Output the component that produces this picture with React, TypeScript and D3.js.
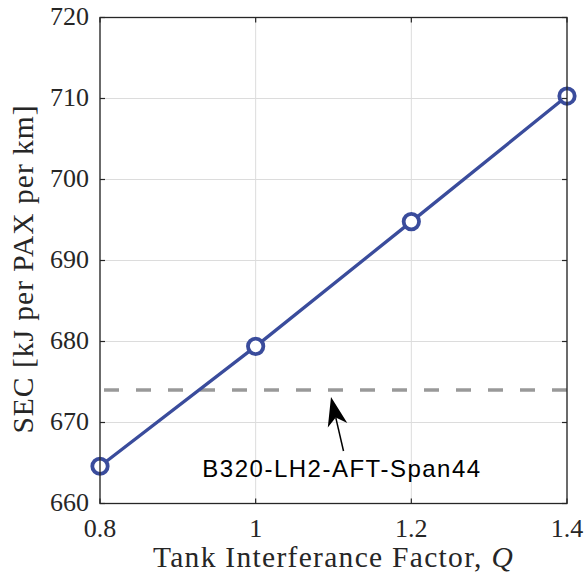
import React from "react";
import * as d3 from "d3";

const qValues = [0.8, 1.0, 1.2, 1.4];
const secValues = [664.6, 679.4, 694.8, 710.3];
const baselineSEC = 674.0;
const baselineLabel = "B320-LH2-AFT-Span44";
const xTicks = [0.8, 1.0, 1.2, 1.4];
const xTickLabels = ["0.8", "1", "1.2", "1.4"];
const yTicks = [660, 670, 680, 690, 700, 710, 720];

const W = 587, H = 583;
const L = 100, R = 567, T = 17.5, B = 503.5;
const serif = "'Liberation Serif', 'Times New Roman', serif";

export default function App() {
  const x = d3.scaleLinear().domain([0.8, 1.4]).range([L, R]);
  const y = d3.scaleLinear().domain([660, 720]).range([B, T]);
  const line = d3.line<number>().x((_, i) => x(qValues[i])).y((d) => y(d));
  const lineColor = "#3a4c9c";
  const ax = 331, ay = y(baselineSEC) + 7;
  const tx = 343.5, ty = 451;
  const ang = Math.atan2(ay - ty, ax - tx);
  const hl = 29, hw = 10;
  const c = Math.cos(ang), s = Math.sin(ang);
  const p1 = [ax - hl * c + hw * s, ay - hl * s - hw * c];
  const p2 = [ax - hl * c - hw * s, ay - hl * s + hw * c];
  const pm = [ax - hl * 0.72 * c, ay - hl * 0.72 * s];
  return (
    <svg width={W} height={H} style={{ position: "absolute", left: 0, top: 0, background: "#fff" }}>
      <rect x={0} y={0} width={W} height={H} fill="#fff" />
      {xTicks.map((t) => (
        <line key={"gx" + t} x1={x(t)} x2={x(t)} y1={T} y2={B} stroke="#dcdcdc" strokeWidth={1} />
      ))}
      {yTicks.map((t) => (
        <line key={"gy" + t} x1={L} x2={R} y1={y(t)} y2={y(t)} stroke="#dcdcdc" strokeWidth={1} />
      ))}
      <line x1={L} x2={R} y1={y(baselineSEC)} y2={y(baselineSEC)} stroke="#999999" strokeWidth={3.5} strokeDasharray="15 17" strokeDashoffset={-4} />
      <path d={line(secValues) || ""} fill="none" stroke={lineColor} strokeWidth={3.3} />
      {secValues.map((v, i) => (
        <circle key={i} cx={x(qValues[i])} cy={y(v)} r={7.7} fill="#fff" stroke={lineColor} strokeWidth={3.8} />
      ))}
      <line x1={tx} y1={ty} x2={pm[0]} y2={pm[1]} stroke="#000" strokeWidth={1.5} />
      <path d={`M${ax},${ay}L${p1[0]},${p1[1]}L${pm[0]},${pm[1]}L${p2[0]},${p2[1]}Z`} fill="#000" />
      <text x={342} y={477} textAnchor="middle" fontFamily="'Liberation Sans', Arial, sans-serif" fontSize={24} letterSpacing={1.5} fill="#000">{baselineLabel}</text>
      <rect x={L} y={T} width={R - L} height={B - T} fill="none" stroke="#262626" strokeWidth={1.3} />
      {xTicks.map((t) => (
        <g key={"tx" + t}>
          <line x1={x(t)} x2={x(t)} y1={B} y2={B - 5} stroke="#262626" strokeWidth={1.2} />
          <line x1={x(t)} x2={x(t)} y1={T} y2={T + 5} stroke="#262626" strokeWidth={1.2} />
        </g>
      ))}
      {yTicks.map((t) => (
        <g key={"ty" + t}>
          <line x1={L} x2={L + 5} y1={y(t)} y2={y(t)} stroke="#262626" strokeWidth={1.2} />
          <line x1={R} x2={R - 5} y1={y(t)} y2={y(t)} stroke="#262626" strokeWidth={1.2} />
        </g>
      ))}
      {xTicks.map((t, i) => (
        <text key={"lx" + t} x={x(t)} y={537} textAnchor="middle" fontFamily={serif} fontSize={26} fill="#262626">{xTickLabels[i]}</text>
      ))}
      {yTicks.map((t) => (
        <text key={"ly" + t} x={89} y={y(t) + 7} textAnchor="end" fontFamily={serif} fontSize={26} fill="#262626">{t}</text>
      ))}
      <text x={(L + R) / 2} y={567} textAnchor="middle" fontFamily={serif} fontSize={29.5} letterSpacing={1.3} fill="#262626">
        Tank Interferance Factor, <tspan fontStyle="italic">Q</tspan>
      </text>
      <text transform={`translate(33,269) rotate(-90)`} textAnchor="middle" fontFamily={serif} fontSize={29.5} letterSpacing={1} fill="#262626">
        SEC [kJ per PAX per km]
      </text>
    </svg>
  );
}
